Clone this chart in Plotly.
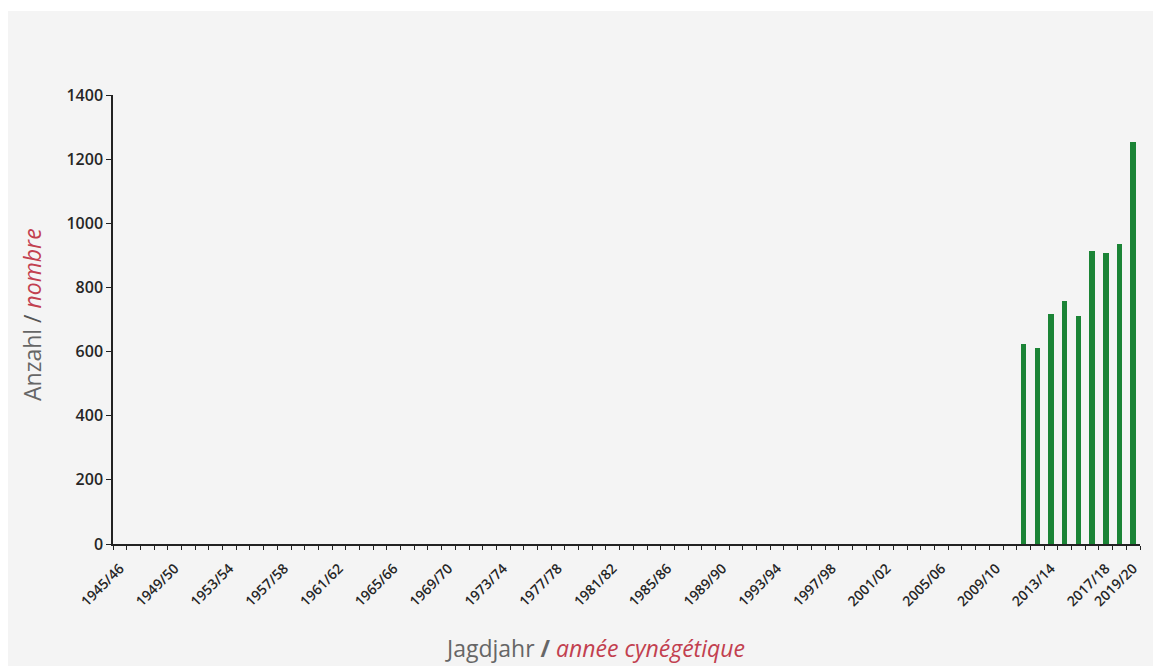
import plotly.graph_objects as go

# Hunting seasons on the axis
seasons = [f"{y}/{str(y + 1)[-2:]}" for y in range(1945, 2020)]
labeled_seasons = ["1945/46", "1949/50", "1953/54", "1957/58", "1961/62", "1965/66",
                   "1969/70", "1973/74", "1977/78", "1981/82", "1985/86", "1989/90",
                   "1993/94", "1997/98", "2001/02", "2005/06", "2009/10", "2013/14",
                   "2017/18", "2019/20"]
bar_seasons = ["2011/12", "2012/13", "2013/14", "2014/15", "2015/16",
               "2016/17", "2017/18", "2018/19", "2019/20"]
counts = [625, 612, 718, 758, 711, 914, 908, 936, 1252]
y_ticks = [0, 200, 400, 600, 800, 1000, 1200, 1400]

OFF = 8  # page body margin in the browser
W, H = 1161 - OFF, 666 - OFF
L, T = 113 - OFF, 95 - OFF
R = W - (1140 - OFF)
B = H - (544 - OFF)
pw, ph = W - L - R, H - T - B

def px_x(x):  # reference pixel -> paper coordinate
    return (x - OFF - L) / pw

def px_y(y):
    return (H - B - (y - OFF)) / ph

idx = {s: i for i, s in enumerate(seasons)}

fig = go.Figure()
fig.add_trace(go.Bar(
    x=[idx[s] for s in bar_seasons], y=counts,
    width=0.4, marker=dict(color="#1b8436", line=dict(width=0)),
))

fig.update_layout(
    width=W, height=H,
    margin=dict(l=L, r=R, t=T, b=B),
    paper_bgcolor="#f4f4f4", plot_bgcolor="#f4f4f4",
    showlegend=False, bargap=0,
    xaxis=dict(
        range=[-0.5, len(seasons) - 0.5],
        tickvals=[idx[s] for s in labeled_seasons], ticktext=labeled_seasons,
        tickangle=-45, ticks="", ticklen=0, ticklabelstandoff=9,
        showgrid=False, zeroline=False,
        showline=True, linecolor="#222", linewidth=1.5,
        tickfont=dict(family="Open Sans", size=14, color="#262626", weight=600),
        minor=dict(tickvals=[i - 0.5 for i in range(len(seasons) + 1)],
                   ticks="outside", ticklen=4, tickcolor="#222", tickwidth=1,
                   showgrid=False),
    ),
    yaxis=dict(
        range=[0, 1400], tickvals=y_ticks,
        ticks="outside", ticklen=5, tickcolor="#222", tickwidth=1,
        showgrid=False, zeroline=False,
        showline=True, linecolor="#222", linewidth=1.5,
        tickfont=dict(family="Open Sans", size=16, color="#262626", weight=600),
    ),
    shapes=[dict(type="rect", xref="paper", yref="paper", layer="below",
                 x0=px_x(0), x1=px_x(1161), y0=px_y(11), y1=px_y(0),
                 fillcolor="white", line=dict(width=0))],
    annotations=[
        dict(xref="paper", yref="paper", x=px_x(595), y=px_y(648),
             xanchor="center", yanchor="middle", showarrow=False,
             text="Jagdjahr <b>/</b> <i><span style='color:#c2404f'>année cynégétique</span></i>",
             font=dict(family="Open Sans", size=23, color="#666")),
        dict(xref="paper", yref="paper", x=px_x(32), y=px_y(315),
             xanchor="center", yanchor="middle", showarrow=False, textangle=-90,
             text="Anzahl <span style='color:#555'>/</span> <i><span style='color:#c2404f'>nombre</span></i>",
             font=dict(family="Open Sans", size=23, color="#666")),
    ],
)

fig.write_html("out.html")
